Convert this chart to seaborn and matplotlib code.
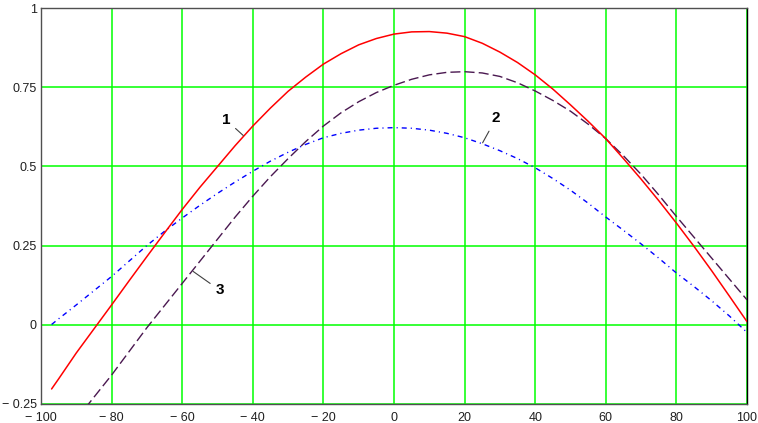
import numpy as np
import pandas as pd
import matplotlib
matplotlib.use("Agg")
import matplotlib.pyplot as plt
import seaborn as sns

# ---- data ----
x_red = [-97, -95, -90, -85, -80, -75, -70, -65, -60, -55, -50, -45, -40, -35, -30, -25, -20, -15, -10, -5,
         0, 5, 10, 15, 20, 25, 30, 35, 40, 45, 50, 55, 60, 65, 70, 75, 80, 85, 90, 95, 100]
y_red = [-0.204, -0.172, -0.09, -0.014, 0.062, 0.139, 0.215, 0.29, 0.364, 0.434, 0.50, 0.566, 0.628,
         0.685, 0.738, 0.783, 0.824, 0.857, 0.885, 0.905, 0.919, 0.926, 0.927, 0.922, 0.911, 0.89,
         0.862, 0.829, 0.79, 0.745, 0.695, 0.643, 0.588, 0.525, 0.46, 0.392, 0.321, 0.247, 0.17,
         0.09, 0.009]

x_blue = [-97, -95, -90, -85, -80, -75, -70, -65, -60, -55, -50, -45, -40, -35, -30, -25, -20, -15, -10, -5,
          0, 5, 10, 15, 20, 25, 30, 35, 40, 45, 50, 55, 60, 65, 70, 75, 80, 85, 90, 95, 100]
y_blue = [0.0, 0.018, 0.062, 0.107, 0.152, 0.201, 0.25, 0.295, 0.337, 0.377, 0.415, 0.451, 0.485,
          0.517, 0.545, 0.57, 0.591, 0.605, 0.615, 0.621, 0.623, 0.621, 0.615, 0.605, 0.591, 0.572,
          0.55, 0.525, 0.496, 0.462, 0.425, 0.384, 0.34, 0.298, 0.255, 0.21, 0.163, 0.12, 0.075,
          0.027, -0.025]

x_purple = [-90, -85, -80, -75, -70, -65, -60, -55, -50, -45, -40, -35, -30, -25, -20, -15, -10, -5,
            0, 5, 10, 15, 20, 25, 30, 35, 40, 45, 50, 55, 60, 65, 70, 75, 80, 85, 90, 95, 100]
y_purple = [-0.30, -0.23, -0.16, -0.085, -0.01, 0.06, 0.13, 0.20, 0.27, 0.34, 0.406, 0.468, 0.525,
            0.579, 0.628, 0.67, 0.705, 0.734, 0.757, 0.776, 0.79, 0.798, 0.80, 0.796, 0.785, 0.765,
            0.739, 0.709, 0.675, 0.634, 0.588, 0.534, 0.475, 0.41, 0.342, 0.276, 0.21, 0.144, 0.078]

x_ticks = [-100, -80, -60, -40, -20, 0, 20, 40, 60, 80, 100]
x_ticklabels = ["\u2212 100", "\u2212 80", "\u2212 60", "\u2212 40", "\u2212 20", "0", "20", "40", "60", "80", "100"]
y_ticks = [-0.25, 0, 0.25, 0.5, 0.75, 1]
y_ticklabels = ["\u2212 0.25", "0", "0.25", "0.5", "0.75", "1"]

curve_labels = ["1", "2", "3"]
label_text_pos = [(-47.6, 0.648), (28.9, 0.652), (-49.3, 0.108)]
label_point = [(-42.7, 0.598), (25.1, 0.575), (-56.9, 0.168)]

# ---- style ----
sns.set_style("white")
plt.rcParams["font.family"] = ["Liberation Sans", "DejaVu Sans"]

fig = plt.figure(figsize=(7.58, 4.23), dpi=100)
ax = fig.add_axes([41 / 758, 19.5 / 423, 706 / 758, 395 / 423])

df_red = pd.DataFrame({"x": x_red, "y": y_red})
df_blue = pd.DataFrame({"x": x_blue, "y": y_blue})
df_purple = pd.DataFrame({"x": x_purple, "y": y_purple})

sns.lineplot(data=df_blue, x="x", y="y", ax=ax, color="#0000ff", lw=1.0,
             linestyle=(0, (3.6, 2.9, 0.8, 2.9)), estimator=None, sort=False, zorder=3)
sns.lineplot(data=df_purple, x="x", y="y", ax=ax, color="#4a1850", lw=1.0,
             linestyle=(0, (7.2, 3.0)), estimator=None, sort=False, zorder=3)
sns.lineplot(data=df_red, x="x", y="y", ax=ax, color="#ff0000", lw=1.1,
             estimator=None, sort=False, zorder=4)

ax.set_xlim(-100, 100)
ax.set_ylim(-0.25, 1)
ax.set_xticks(x_ticks)
ax.set_xticklabels(x_ticklabels)
ax.set_yticks(y_ticks)
ax.set_yticklabels(y_ticklabels)
ax.set_xlabel("")
ax.set_ylabel("")

ax.grid(True, color="#00ff00", lw=1.1, zorder=1)
ax.set_axisbelow(True)
ax.tick_params(axis="both", length=0, labelsize=9, colors="#202020")
ax.tick_params(axis="x", pad=6)
ax.tick_params(axis="y", pad=3)

for side in ["left", "top", "bottom"]:
    ax.spines[side].set_color("#505050")
    ax.spines[side].set_linewidth(1.0)
ax.spines["right"].set_color("#000000")
ax.spines["right"].set_linewidth(1.0)

for lab, tpos, pt in zip(curve_labels, label_text_pos, label_point):
    ax.annotate(lab, xy=pt, xytext=tpos, ha="center", va="center",
                fontsize=11, fontweight="bold", color="#000000",
                arrowprops=dict(arrowstyle="-", color="#404040", lw=0.8,
                                shrinkA=2, shrinkB=0), zorder=5)

fig.savefig("out.png", dpi=100)
